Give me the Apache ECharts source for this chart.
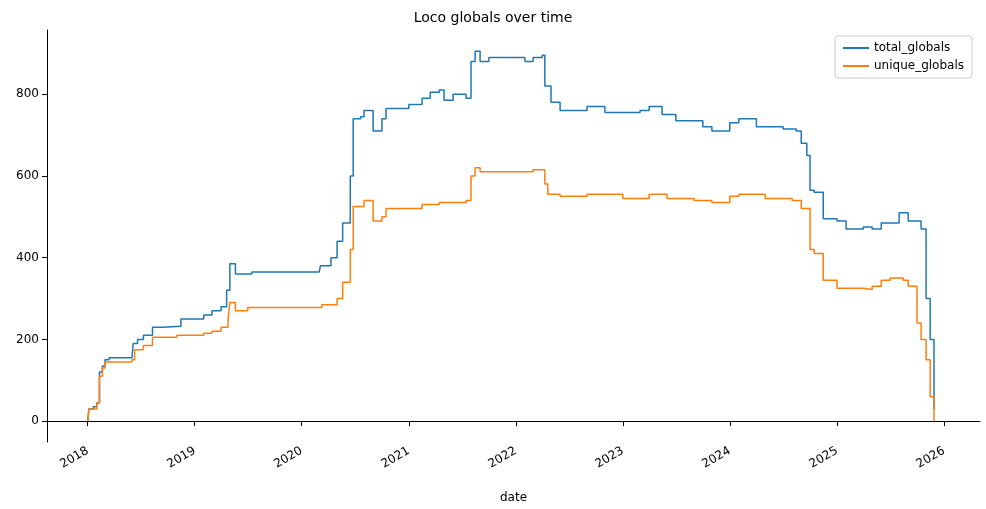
<!DOCTYPE html>
<html style="height: 100%">
<head>
<meta charset="utf-8">
<script src="https://cdn.jsdelivr.net/npm/echarts/dist/echarts.min.js"></script>
</head>
<body style="height: 100%; margin: 0; background: #fff">
<div id="container" style="width: 986px; height: 509px"></div>
<script>
// total_globals
var totalDates = ['2018-01-01','2018-01-05','2018-01-20','2018-02-01','2018-02-10','2018-02-20','2018-03-01','2018-03-15','2018-06-01','2018-06-05','2018-06-20','2018-07-10','2018-08-10','2018-09-15','2018-11-15','2019-01-10','2019-02-01','2019-03-01','2019-04-01','2019-04-20','2019-05-01','2019-05-20','2019-07-15','2020-03-01','2020-03-05','2020-04-10','2020-05-01','2020-05-20','2020-06-15','2020-06-25','2020-07-20','2020-08-01','2020-09-01','2020-10-01','2020-10-15','2021-01-01','2021-02-15','2021-03-15','2021-04-15','2021-05-01','2021-06-01','2021-07-15','2021-08-01','2021-08-15','2021-09-01','2021-10-01','2022-01-01','2022-02-01','2022-03-01','2022-04-01','2022-04-10','2022-05-01','2022-06-01','2022-09-01','2022-11-01','2023-03-01','2023-04-01','2023-05-15','2023-07-01','2023-10-01','2023-11-01','2024-01-01','2024-02-01','2024-04-01','2024-07-01','2024-08-15','2024-09-01','2024-09-20','2024-10-01','2024-10-15','2024-11-15','2025-01-01','2025-02-01','2025-04-01','2025-05-01','2025-06-01','2025-08-01','2025-09-01','2025-10-15','2025-11-01','2025-11-15','2025-11-28'];
var totalValues = [0,30,35,45,120,135,150,155,157,190,200,210,230,232,250,250,260,270,280,320,385,360,365,365,380,400,440,485,600,740,745,760,710,740,765,775,790,805,810,785,800,790,880,905,880,890,890,880,890,895,820,780,760,770,755,760,770,750,735,720,710,730,740,720,715,710,680,650,565,560,495,490,470,475,470,485,510,490,470,300,200,30];

// unique_globals
var uniqueDates = ['2018-01-01','2018-01-05','2018-02-01','2018-02-10','2018-02-20','2018-03-01','2018-06-01','2018-06-10','2018-07-10','2018-08-10','2018-11-01','2019-02-01','2019-03-01','2019-04-01','2019-04-25','2019-05-01','2019-05-20','2019-07-01','2020-03-01','2020-03-10','2020-05-01','2020-05-20','2020-06-15','2020-06-25','2020-08-01','2020-09-01','2020-10-01','2020-10-15','2021-01-01','2021-02-15','2021-04-15','2021-07-15','2021-08-01','2021-08-15','2021-09-01','2022-01-01','2022-03-01','2022-04-10','2022-04-20','2022-06-01','2022-09-01','2023-01-01','2023-04-01','2023-06-01','2023-09-01','2023-11-01','2024-01-01','2024-02-01','2024-05-01','2024-08-01','2024-09-01','2024-10-01','2024-10-15','2024-11-15','2025-01-01','2025-04-01','2025-05-01','2025-06-01','2025-07-01','2025-08-15','2025-09-01','2025-10-01','2025-10-15','2025-11-01','2025-11-15','2025-11-28'];
var uniqueValues = [0,30,45,110,130,145,150,175,185,205,210,215,220,230,250,290,270,278,278,285,300,340,420,525,540,490,500,520,520,530,535,540,600,620,610,610,615,580,555,550,555,545,555,545,540,535,550,555,545,540,520,420,410,345,325,322,330,345,350,345,330,240,200,150,60,0];

function zip(d, v) { return d.map(function (x, i) { return [x, v[i]]; }); }

var myChart = echarts.init(document.getElementById('container'));
var font = 'DejaVu Sans';
option = {
    animation: false,
    textStyle: { fontFamily: font },
    title: { text: 'Loco globals over time', left: 'center', top: 6,
        textStyle: { fontFamily: font, fontSize: 14, fontWeight: 'normal', color: '#000' } },
    legend: {
        right: 14, top: 36, orient: 'vertical', itemGap: 6,
        borderColor: '#ccc', borderWidth: 1, borderRadius: 3, padding: [6, 8],
        itemWidth: 26, itemHeight: 2, icon: 'rect',
        textStyle: { fontFamily: font, fontSize: 12, color: '#000' },
        data: ['total_globals', 'unique_globals']
    },
    grid: { left: 47, right: 6, top: 30, bottom: 67 },
    xAxis: {
        type: 'time',
        min: '2017-08-15', max: '2026-05-04',
        name: 'date', nameLocation: 'middle', nameGap: 50,
        nameTextStyle: { fontFamily: font, fontSize: 12, color: '#000' },
        axisLine: { lineStyle: { color: '#000' } },
        axisTick: { lineStyle: { color: '#000' } },
        splitLine: { show: false },
        minInterval: 365 * 24 * 3600 * 1000,
        axisLabel: { rotate: 30, color: '#000', fontSize: 12,
            formatter: function (v) { return String(new Date(v).getFullYear()); } }
    },
    yAxis: {
        type: 'value', min: -51, max: 957,
        axisLine: { show: true, lineStyle: { color: '#000' } },
        axisTick: { show: true, lineStyle: { color: '#000' } },
        splitLine: { show: false },
        axisLabel: { color: '#000', fontSize: 12,
            customValues: [0, 200, 400, 600, 800] },
        axisTick: { show: true, customValues: [0, 200, 400, 600, 800], lineStyle: { color: '#000' } }
    },
    series: [
        { name: 'total_globals', type: 'line', step: 'end', showSymbol: false,
          color: '#1f77b4', lineStyle: { width: 1.5 }, data: zip(totalDates, totalValues) },
        { name: 'unique_globals', type: 'line', step: 'end', showSymbol: false,
          color: '#ff7f0e', lineStyle: { width: 1.5 }, data: zip(uniqueDates, uniqueValues) }
    ]
};
myChart.setOption(option);
</script>
</body>
</html>
